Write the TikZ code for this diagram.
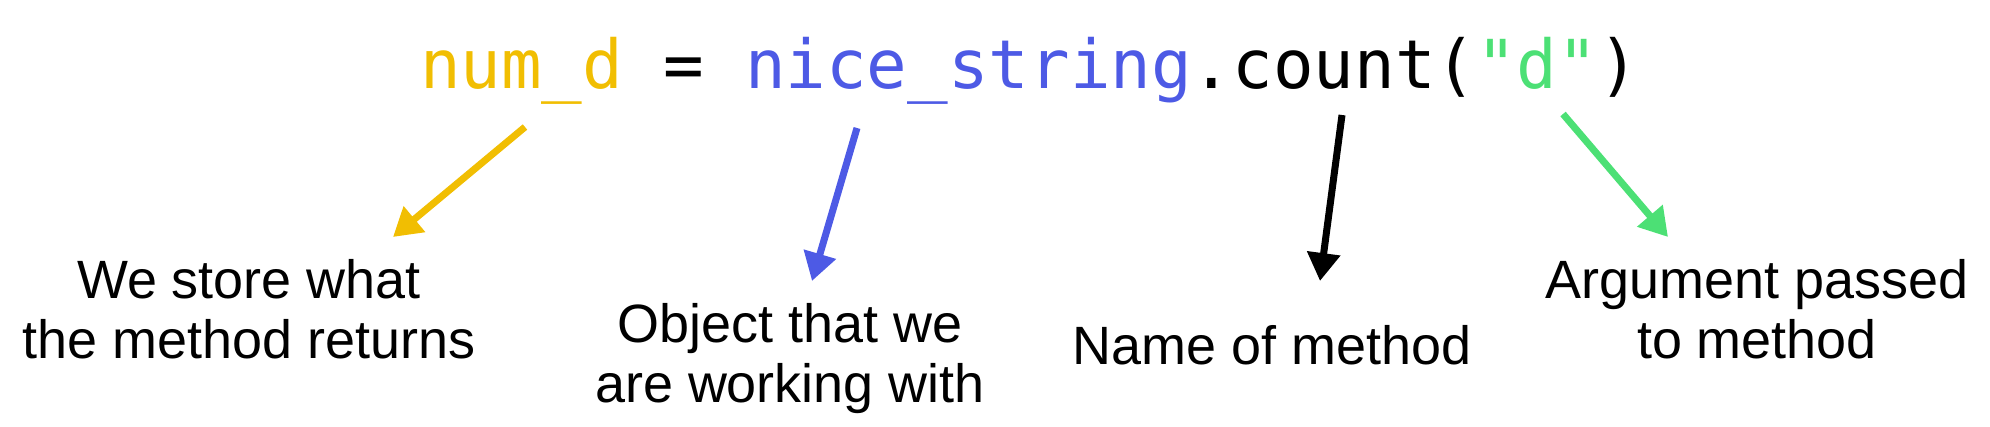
\documentclass[tikz,border=0pt]{standalone}
\usepackage{fontspec}
\setmainfont{Liberation Sans}
\newfontfamily\codefont{DejaVu Sans Mono}
\usetikzlibrary{arrows.meta}
\definecolor{cyellow}{HTML}{F1BE02}
\definecolor{cblue}{HTML}{4D5AE5}
\definecolor{cgreen}{HTML}{4CE075}
\tikzset{
  codetxt/.style={inner sep=0pt, outer sep=0pt, anchor=base west, font=\codefont\fontsize{19.2pt}{22pt}\selectfont},
  labeltxt/.style={inner sep=0pt, align=center, anchor=base, font=\fontsize{15.35pt}{16.9pt}\selectfont},
  pointer/.style={line width=0.7mm, -{Triangle[length=2.8mm,width=3.2mm]}},
}
\begin{document}
\begin{tikzpicture}[x=0.1mm,y=-0.1mm]
\useasboundingbox (0,0) rectangle (1990,426);
% code line
\node[codetxt, text=cyellow] (var) at (420,88) {num\_d};
\node[codetxt] (eq) at (var.base east) {\ =\ \mbox{}};
\node[codetxt, text=cblue] (obj) at (eq.base east) {nice\_string};
\node[codetxt] (meth) at (obj.base east) {.count(};
\node[codetxt, text=cgreen] (arg) at (meth.base east) {"d"};
\node[codetxt] (close) at (arg.base east) {)};
% labels (base = last line baseline)
\node[labeltxt] (l1) at (249,358) {We store what\\the method returns};
\node[labeltxt] (l2) at (790,402) {Object that we\\are working with};
\node[labeltxt] (l3) at (1272,364) {Name of method};
\node[labeltxt] (l4) at (1757,358) {Argument passed\\to method};
% arrow ends
\coordinate (s1) at (525,127);
\coordinate (e1) at (393,237);
\coordinate (s2) at (857,128);
\coordinate (e2) at (812,281);
\coordinate (s3) at (1342,115);
\coordinate (e3) at (1320,281);
\coordinate (s4) at (1563,114);
\coordinate (e4) at (1668,237);
\draw[pointer, cyellow] (s1) -- (e1);
\draw[pointer, cblue] (s2) -- (e2);
\draw[pointer, black] (s3) -- (e3);
\draw[pointer, cgreen] (s4) -- (e4);
\end{tikzpicture}
\end{document}
